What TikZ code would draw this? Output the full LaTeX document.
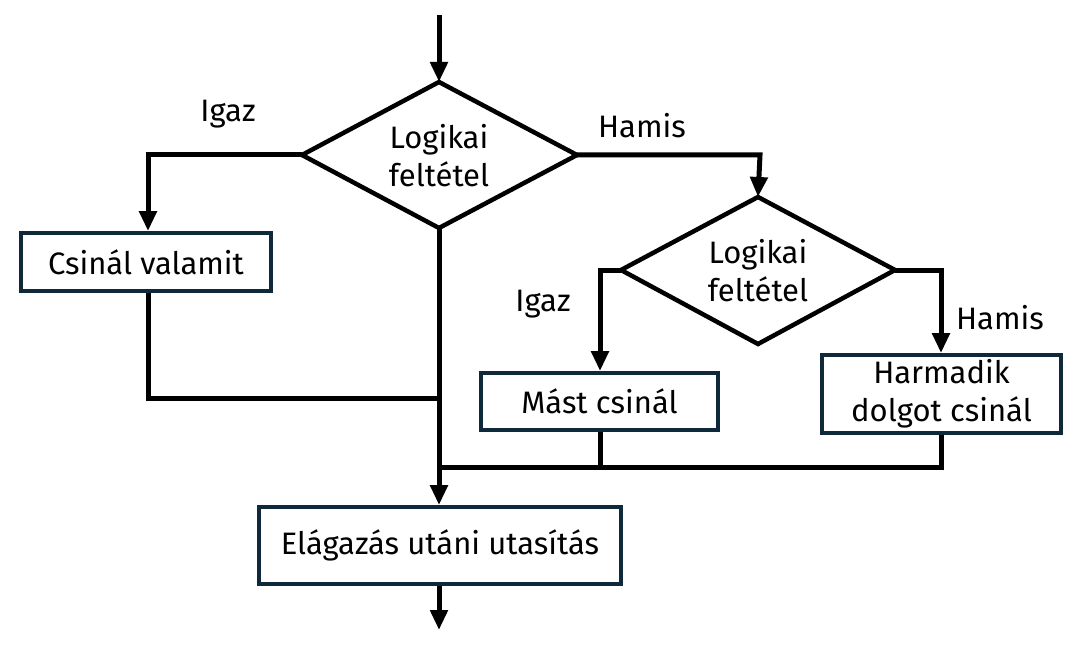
\documentclass[tikz,border=0pt]{standalone}
\usepackage{fontspec}
\setmainfont{Fira Sans}
\usetikzlibrary{arrows.meta,shapes.geometric}
\definecolor{boxborder}{HTML}{0E2A3A}
\begin{document}
\begin{tikzpicture}[x=1pt,y=-1pt,
  conn/.style={line width=5pt,line join=miter,black},
  arr/.style={conn,-{Triangle[width=17pt,length=20pt]}},
  procbox/.style={draw=boxborder,line width=3.8pt,fill=white,inner sep=0pt,align=center,font=\fontsize{31}{38}\selectfont},
  condtext/.style={align=center,font=\fontsize{31}{38}\selectfont},
  cond/.style={line width=4.5pt,fill=white,line join=miter},
  lbl/.style={font=\fontsize{31}{34}\selectfont}]
\useasboundingbox (0,0) rectangle (1085,650);
% diamonds
\draw[cond] (302,155) -- (439,82) -- (577,155) -- (439,228) -- cycle;
\coordinate (d1l) at (302,155); \coordinate (d1r) at (577,155);
\coordinate (d1t) at (439,82); \coordinate (d1b) at (439,228);
\node[condtext] (d1) at (439,156) {Logikai\\feltétel};
\draw[cond] (621,270) -- (758,197) -- (895,270) -- (758,344) -- cycle;
\coordinate (d2l) at (621,270); \coordinate (d2r) at (895,270);
\coordinate (d2t) at (758,197); \coordinate (d2b) at (758,344);
\node[condtext] (d2) at (758,271) {Logikai\\feltétel};
% boxes
\node[procbox,minimum width=250pt,minimum height=58pt] (b1) at (146,262) {Csinál valamit};
\node[procbox,minimum width=237pt,minimum height=57pt] (b2) at (599.5,401.5) {Mást csinál};
\node[procbox,minimum width=239pt,minimum height=78pt] (b3) at (941.5,394) {Harmadik\\dolgot csinál};
\node[procbox,minimum width=362pt,minimum height=77pt] (b4) at (440,545.5) {Elágazás utáni utasítás};
% coordinates
\coordinate (top) at (439,15);
\coordinate (bot) at (439,630);
\coordinate (j1) at (148,155);
\coordinate (j2) at (148,398);
\coordinate (j3) at (439,398);
\coordinate (j4) at (760,155);
\coordinate (j5) at (600,270);
\coordinate (j6) at (941,270);
\coordinate (j7) at (439,467);
\coordinate (j8) at (600,467);
\coordinate (j9) at (941,467);
% connectors
\draw[arr] (top) -- (d1t);
\draw[arr] (d1l) -- (j1) -- (j1 |- b1.north);
\draw[conn] (j1 |- b1.south) -- (j2) -- (j3);
\draw[arr] (d1b) -- (d1b |- b4.north);
\draw[arr] (d1r) -- (j4) -- (d2t);
\draw[arr] (d2l) -- (j5) -- (j5 |- b2.north);
\draw[arr] (d2r) -- (j6) -- (j6 |- b3.north);
\draw[conn] (j8 |- b2.south) -- (j8);
\draw[conn] (j9 |- b3.south) -- (j9) -- (j7);
\draw[arr] (d1b |- b4.south) -- (bot);
% labels
\node[lbl] (l1) at (228,114) {Igaz};
\node[lbl] (l2) at (642,126) {Hamis};
\node[lbl] (l3) at (543,304) {Igaz};
\node[lbl] (l4) at (1000,318) {Hamis};
\end{tikzpicture}
\end{document}
